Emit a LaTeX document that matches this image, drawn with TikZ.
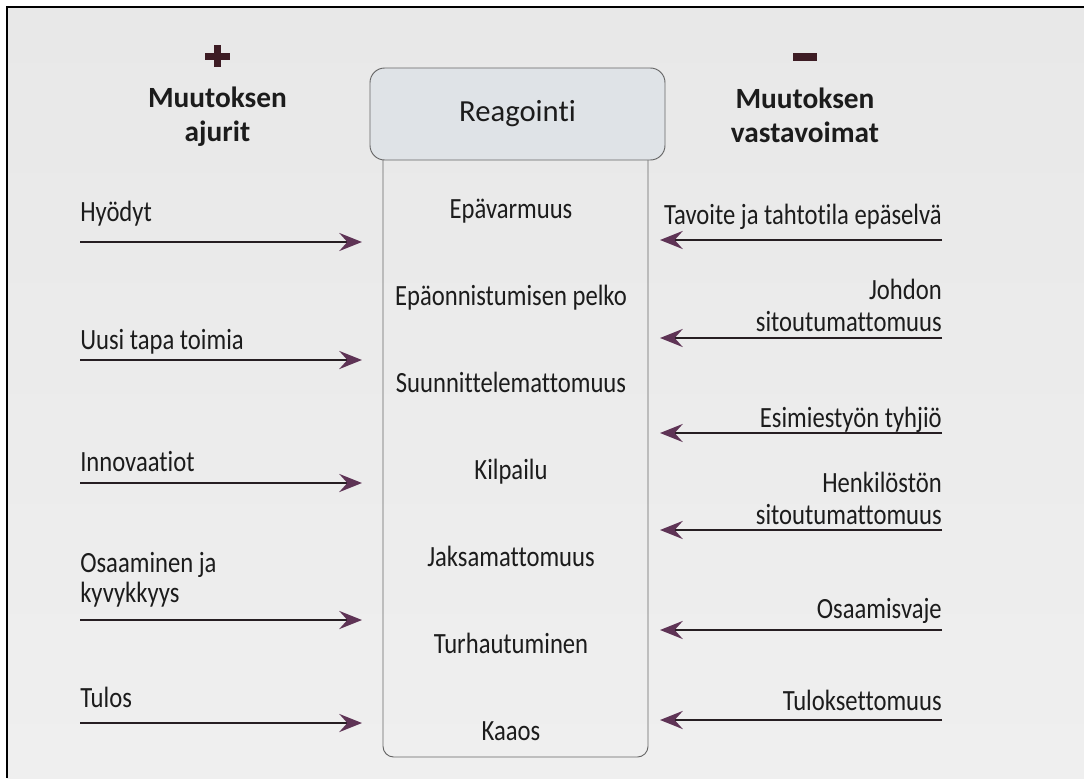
\documentclass[tikz,border=0pt]{standalone}
\usepackage{fontspec}
\setmainfont{Carlito}[Ligatures=NoCommon]
\newfontfamily\narrowfont{Carlito}[FakeStretch=0.84, Ligatures=NoCommon]
\usetikzlibrary{positioning,arrows.meta,calc}
\definecolor{paper}{HTML}{E8E8E8}
\definecolor{paperlight}{HTML}{EFEFEF}
\definecolor{boxfill}{HTML}{DFE3E7}
\definecolor{boxline}{HTML}{666666}
\definecolor{shaft}{HTML}{261E22}
\definecolor{tipcol}{HTML}{5E3355}
\definecolor{signcol}{HTML}{3D1C24}
\definecolor{ink}{HTML}{1C1C1C}

\tikzset{
  force/.style={line width=2.2pt, draw=shaft, -{Stealth[length=17pt,width=13.5pt,inset=6pt,color=tipcol]}},
  lefttext/.style={anchor=south west, inner sep=0pt, text depth=0pt, align=left, text=ink, font=\narrowfont\fontsize{22}{23}\selectfont},
  righttext/.style={anchor=south east, inner sep=0pt, text depth=0pt, align=right, text=ink, font=\narrowfont\fontsize{22}{24}\selectfont},
  phase/.style={anchor=base, inner sep=0pt, text=ink, font=\narrowfont\fontsize{22}{24}\selectfont},
  header/.style={anchor=south, inner sep=0pt, text depth=0pt, align=center, text=ink, font=\fontsize{22}{26}\selectfont\bfseries}
}

\begin{document}
\begin{tikzpicture}[x=0.75pt, y=-0.75pt]
    \useasboundingbox (0,0) rectangle (1084,778);
    \fill[white] (0,0) rectangle (1084,778);
    \shade[top color=paper, bottom color=paperlight] (7,7) rectangle (1084,778);
    \draw[line width=2.2pt, black] (7,778) -- (7,7) -- (1084,7);

    % plus and minus signs
    \fill[signcol] (205,52.5) rectangle (230,59.5);
    \fill[signcol] (214,45) rectangle (221,67);
    \fill[signcol] (793,53) rectangle (817,61);

    \node (drivers) [header] at (217.5,142) {Muutoksen\\ajurit};
    \node (counter) [header] at (805,143) {Muutoksen\\vastavoimat};

    % reaction column
    \node (column) [draw=boxline, line width=0.7pt, rounded corners=8pt, minimum width=198.75pt, minimum height=462.75pt] at (515.5,448.5) {};
    \node (reaction) [draw=boxline, line width=0.7pt, fill=boxfill, rounded corners=11pt, minimum width=221.25pt, minimum height=69pt, text=ink, font=\fontsize{23}{26}\selectfont] at (517.5,114) {Reagointi};

    \node (uncertain) [phase] at (511,218) {Epävarmuus};
    \node (fear) [phase] at (511,305) {Epäonnistumisen pelko};
    \node (unplanned) [phase] at (511,392) {Suunnittelemattomuus};
    \node (compete) [phase] at (511,479) {Kilpailu};
    \node (exhaust) [phase] at (511,566) {Jaksamattomuus};
    \node (frustr) [phase] at (511,653) {Turhautuminen};
    \node (chaos) [phase] at (511,740) {Kaaos};

    % drivers (left)
    \coordinate (benefitsA) at (80,242);   \coordinate (benefitsB) at (362,242);
    \coordinate (newwayA) at (80,360);     \coordinate (newwayB) at (362,360);
    \coordinate (innovA) at (80,483);      \coordinate (innovB) at (362,483);
    \coordinate (skillA) at (80,620);      \coordinate (skillB) at (362,620);
    \coordinate (resultA) at (80,723);     \coordinate (resultB) at (362,723);

    \node (benefits) [lefttext] at (80,222) {Hyödyt};
    \node (newway) [lefttext] at (80,350) {Uusi tapa toimia};
    \node (innov) [lefttext] at (80,472) {Innovaatiot};
    \node (skill) [lefttext] at (80,603) {Osaaminen ja\\kyvykkyys};
    \node (result) [lefttext] at (80,708) {Tulos};

    \draw[force] (benefitsA) -- (benefitsB);
    \draw[force] (newwayA) -- (newwayB);
    \draw[force] (innovA) -- (innovB);
    \draw[force] (skillA) -- (skillB);
    \draw[force] (resultA) -- (resultB);

    % counterforces (right)
    \coordinate (goalA) at (942,240);      \coordinate (goalB) at (660,240);
    \coordinate (leadA) at (942,338);      \coordinate (leadB) at (660,338);
    \coordinate (supA) at (942,433);       \coordinate (supB) at (660,433);
    \coordinate (staffA) at (942,530);     \coordinate (staffB) at (660,530);
    \coordinate (gapA) at (942,630);       \coordinate (gapB) at (660,630);
    \coordinate (noresA) at (942,720);     \coordinate (noresB) at (660,720);

    \node (goal) [righttext] at (942,225) {Tavoite ja tahtotila epäselvä};
    \node (lead) [righttext] at (942,332) {Johdon\\sitoutumattomuus};
    \node (sup) [righttext] at (942,428) {Esimiestyön tyhjiö};
    \node (staff) [righttext] at (942,525) {Henkilöstön\\sitoutumattomuus};
    \node (gap) [righttext] at (942,619) {Osaamisvaje};
    \node (nores) [righttext] at (942,711) {Tuloksettomuus};

    \draw[force] (goalA) -- (goalB);
    \draw[force] (leadA) -- (leadB);
    \draw[force] (supA) -- (supB);
    \draw[force] (staffA) -- (staffB);
    \draw[force] (gapA) -- (gapB);
    \draw[force] (noresA) -- (noresB);
\end{tikzpicture}
\end{document}
